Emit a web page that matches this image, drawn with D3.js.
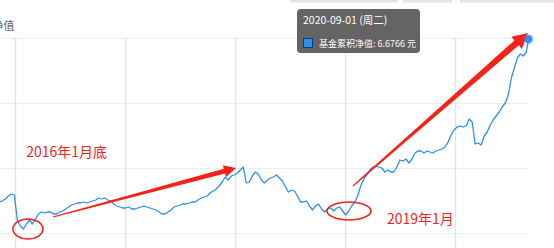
<!DOCTYPE html>
<html>
<head>
<meta charset="utf-8">
<script src="https://d3js.org/d3.v7.min.js"></script>
<style>
body { margin: 0; background: #fff; overflow: hidden; }
svg { display: block; font-family: "Noto Sans CJK SC", "Noto Sans", sans-serif; }
</style>
</head>
<body>
<div id="chart"></div>
<script>
var width = 554, height = 248;

// 累计净值, one reading every 10 days starting 2015-11-10
var startDate = "2015-11-10";
var navValues = [
  3.42, 3.44, 3.48, 3.54, 3.58, 3.56, 3.04, 2.94, 2.88, 2.98,
  3.06, 2.98, 3.08, 3.18, 3.22, 3.20, 3.22, 3.22, 3.18, 3.18,
  3.22, 3.24, 3.28, 3.32, 3.36, 3.38, 3.40, 3.40, 3.42, 3.40,
  3.42, 3.44, 3.46, 3.50, 3.48, 3.50, 3.46, 3.44, 3.38, 3.34,
  3.32, 3.30, 3.30, 3.32, 3.28, 3.28, 3.30, 3.32, 3.34, 3.32,
  3.30, 3.28, 3.26, 3.22, 3.18, 3.18, 3.22, 3.26, 3.32, 3.34,
  3.36, 3.38, 3.38, 3.40, 3.42, 3.42, 3.46, 3.50, 3.52, 3.54,
  3.60, 3.64, 3.68, 3.74, 3.82, 3.92, 3.86, 3.94, 3.96, 4.00,
  4.06, 4.12, 3.80, 3.82, 3.94, 4.02, 3.98, 3.86, 3.80, 3.86,
  3.90, 3.92, 3.96, 3.90, 3.84, 3.72, 3.62, 3.66, 3.64, 3.54,
  3.42, 3.42, 3.44, 3.34, 3.26, 3.34, 3.38, 3.28, 3.22, 3.28,
  3.30, 3.24, 3.30, 3.32, 3.24, 3.16, 3.24, 3.34, 3.42, 3.54,
  3.74, 3.88, 3.96, 4.06, 4.12, 4.14, 4.12, 4.10, 4.02, 4.06,
  4.02, 4.02, 4.12, 4.26, 4.24, 4.28, 4.20, 4.28, 4.40, 4.44,
  4.44, 4.40, 4.44, 4.42, 4.40, 4.44, 4.46, 4.48, 4.52, 4.62,
  4.76, 4.86, 4.92, 4.94, 4.92, 4.94, 5.08, 5.02, 4.58, 4.60,
  4.56, 4.74, 4.82, 4.96, 5.06, 5.14, 5.22, 5.32, 5.40, 5.56,
  5.90, 6.10, 6.30, 6.38, 6.34, 6.42
];
var lastDate = "2020-09-01";
var lastValue = 6.6766;

var yTicks = [2.8, 4.1, 5.4, 6.7];
var xTicks = ["2016-01-01", "2017-01-01", "2018-01-01", "2019-01-01", "2020-01-01"];

var tipTitle = "2020-09-01 (周二)";
var tipLabel = "基金累积净值: 6.6766 元";

// annotations (date, value)
var arrows = [
  {from: ["2016-05-06", 3.12], to: ["2018-01-04", 4.10], head: 12, half: 6, w0: 1.2, w1: 5},
  {from: ["2019-01-27", 3.74], to: ["2020-08-30", 6.80], head: 15, half: 8, w0: 1.2, w1: 6.5}
];
var rings = [
  {at: ["2016-02-13", 2.88], rx: 15, ry: 10},
  {at: ["2019-01-14", 3.24], rx: 22, ry: 9}
];
var notes = [
  {at: ["2016-02-07", 4.32], text: "2016年1月底"},
  {at: ["2019-05-20", 2.98], text: "2019年1月"}
];

var parse = d3.timeParse("%Y-%m-%d");
var t0 = parse(startDate);
var data = navValues.map(function(v, i) {
  return {date: d3.timeDay.offset(t0, i * 10), value: v};
});
data.push({date: parse(lastDate), value: lastValue});

var x = d3.scaleTime()
    .domain([parse("2016-01-01"), parse("2020-01-01")])
    .range([15, 455]);

var y = d3.scaleLinear()
    .domain([2.8, 6.7])
    .range([233, 38]);

var svg = d3.select("#chart")
    .append("svg")
    .attr("width", width)
    .attr("height", height);

// bits of page chrome at the top
[[290, 398], [403, 452], [460, 554]].forEach(function(s) {
  svg.append("rect")
      .attr("x", s[0]).attr("y", 0)
      .attr("width", s[1] - s[0]).attr("height", 2.5)
      .attr("fill", "#e4e4e4");
});

// horizontal grid
var gy = svg.append("g")
    .call(d3.axisRight(y).tickValues(yTicks).tickSize(528).tickFormat(""));
gy.select(".domain").remove();
gy.selectAll(".tick line").attr("stroke", "#ececec");

// vertical grid
var gx = svg.append("g")
    .attr("transform", "translate(0,38)")
    .call(d3.axisBottom(x).tickValues(xTicks.map(parse)).tickSize(height - 38).tickFormat(""));
gx.select(".domain").remove();
gx.selectAll(".tick line").attr("stroke", "#e3e3e3").attr("stroke-width", 1.4);

// axis title, cut off on the left like the source crop
svg.append("text")
    .attr("x", 14.5)
    .attr("y", 30)
    .attr("text-anchor", "end")
    .attr("fill", "#666")
    .style("font-size", "11px")
    .text("累计净值");

// the series
var line = d3.line()
    .x(function(d) { return x(d.date); })
    .y(function(d) { return y(d.value); });

svg.append("path")
    .datum(data)
    .attr("d", line)
    .attr("fill", "none")
    .attr("stroke", "#2e8ef0")
    .attr("stroke-width", 1.3)
    .attr("stroke-linejoin", "round");

var red = "#f2241a";

function pt(a) { return [x(parse(a[0])), y(a[1])]; }

// red arrows
arrows.forEach(function(a) {
  var p0 = pt(a.from), p1 = pt(a.to);
  var dx = p1[0] - p0[0], dy = p1[1] - p0[1];
  var len = Math.sqrt(dx * dx + dy * dy);
  var ux = dx / len, uy = dy / len, nx = -uy, ny = ux;
  var bx = p1[0] - ux * a.head, by = p1[1] - uy * a.head;
  var poly = [
    [p0[0] + nx * a.w0 / 2, p0[1] + ny * a.w0 / 2],
    [bx + nx * a.w1 / 2, by + ny * a.w1 / 2],
    [bx + nx * a.half, by + ny * a.half],
    p1,
    [bx - nx * a.half, by - ny * a.half],
    [bx - nx * a.w1 / 2, by - ny * a.w1 / 2],
    [p0[0] - nx * a.w0 / 2, p0[1] - ny * a.w0 / 2]
  ];
  svg.append("path")
      .attr("d", "M" + poly.join("L") + "Z")
      .attr("fill", red);
});

rings.forEach(function(r) {
  var p = pt(r.at);
  svg.append("ellipse")
      .attr("cx", p[0]).attr("cy", p[1])
      .attr("rx", r.rx).attr("ry", r.ry)
      .attr("fill", "none")
      .attr("stroke", red)
      .attr("stroke-width", 1.6);
});

notes.forEach(function(n) {
  var p = pt(n.at);
  svg.append("text")
      .attr("x", p[0]).attr("y", p[1])
      .attr("fill", red)
      .style("font-size", "14px")
      .text(n.text);
});

// hover marker on last point
var last = data[data.length - 1];
svg.append("circle")
    .attr("cx", x(last.date)).attr("cy", y(last.value))
    .attr("r", 6)
    .attr("fill", "#2e8ef0").attr("fill-opacity", 0.2);
svg.append("circle")
    .attr("cx", x(last.date)).attr("cy", y(last.value))
    .attr("r", 3.8)
    .attr("fill", "#2e8ef0");

// tooltip
var tip = svg.append("g").attr("transform", "translate(297,9)");
tip.append("rect")
    .attr("width", 123).attr("height", 44)
    .attr("rx", 4)
    .attr("fill", "#5c5c5c")
    .attr("fill-opacity", 0.95);
tip.append("text")
    .attr("x", 6).attr("y", 15)
    .attr("fill", "#fff")
    .style("font-size", "10.5px")
    .text(tipTitle);
tip.append("rect")
    .attr("x", 6.5).attr("y", 29.5)
    .attr("width", 9).attr("height", 9)
    .attr("fill", "#2e8ef0")
    .attr("stroke", "#0d3a80")
    .attr("stroke-width", 1);
tip.append("text")
    .attr("x", 22).attr("y", 38)
    .attr("fill", "#fff")
    .style("font-size", "9px")
    .text(tipLabel);
</script>
</body>
</html>
